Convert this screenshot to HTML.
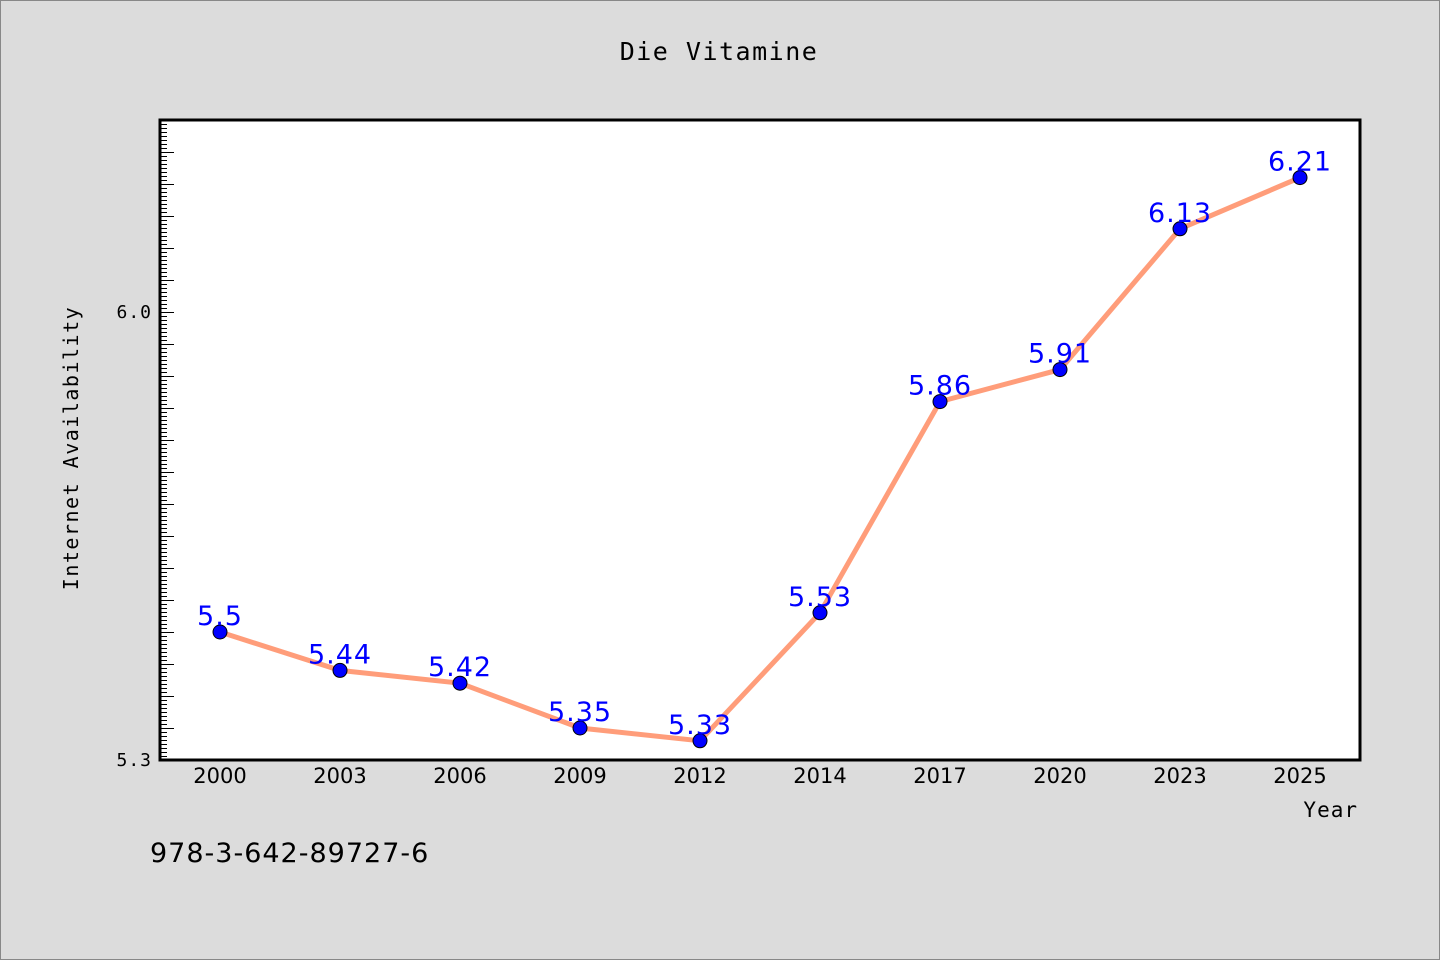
<!DOCTYPE html>
<html><head><meta charset="utf-8"><style>
html,body{margin:0;padding:0;background:#dcdcdc;}
svg{display:block;}
text{font-family:"DejaVu Sans Mono","Liberation Mono",monospace;}
</style></head><body>
<svg id="chart" width="1440" height="960" xmlns="http://www.w3.org/2000/svg">
<rect x="0.5" y="0.5" width="1439" height="959" fill="#dcdcdc" stroke="#888"/>
<text x="719" y="60" font-size="25" letter-spacing="1.5" text-anchor="middle">Die Vitamine</text>
<rect x="160" y="120" width="1200" height="640" fill="#fff"/>
<g id="yticks" shape-rendering="crispEdges"></g>
<g id="xlabels"></g>
<g id="series"></g>
<rect x="160" y="120" width="1200" height="640" fill="none" stroke="#000" stroke-width="3"/>
<text x="78" y="448" font-size="20" letter-spacing="1.5" text-anchor="middle" transform="rotate(-90 78 448)">Internet Availability</text>
<text x="1358" y="817" font-size="21" letter-spacing="1" text-anchor="end">Year</text>
<text x="150" y="862" font-size="27" letter-spacing="1" style="font-family:'DejaVu Sans','Liberation Sans',sans-serif">978-3-642-89727-6</text>
</svg>
<script>
const categories=["2000","2003","2006","2009","2012","2014","2017","2020","2023","2025"];
const values=[5.5,5.44,5.42,5.35,5.33,5.53,5.86,5.91,6.13,6.21];
const valueLabels=["5.5","5.44","5.42","5.35","5.33","5.53","5.86","5.91","6.13","6.21"];
const yTickLabels=["5.3","6.0"];
const yTickValues=[5.3,6.0];
const yMin=5.3,yMax=6.3;
const NS="http://www.w3.org/2000/svg";
function ys(v){return 760-(v-yMin)/(yMax-yMin)*640;}
function xs(i){return 220+i*120;}
function mk(tag,attrs,parent){const e=document.createElementNS(NS,tag);for(const k in attrs)e.setAttribute(k,attrs[k]);parent.appendChild(e);return e;}
const yg=document.getElementById('yticks');
for(let k=0;k<=160;k++){const v=yMin+k*0.00625;const y=Math.round(ys(v))+0.5;const len=(k%8===0)?14:7;
 const t=mk('line',{x1:160,x2:160+len,y1:y,y2:y,stroke:'#000','stroke-width':1},yg);
 
 }
yTickValues.forEach((v,i)=>{const t=mk('text',{x:152,y:ys(v)+6,'font-size':18,'letter-spacing':1,'text-anchor':'end'},yg);t.textContent=yTickLabels[i];
 
 });
const xg=document.getElementById('xlabels');
categories.forEach((c,i)=>{const t=mk('text',{x:xs(i),y:783,'font-size':21,'text-anchor':'middle',style:"font-family:'DejaVu Sans','Liberation Sans',sans-serif"},xg);t.textContent=c;
 
 });
const sg=document.getElementById('series');
const pl=mk('polyline',{points:values.map((v,i)=>xs(i)+','+ys(v)).join(' '),fill:'none',stroke:'#ff9d7a','stroke-width':5},sg);


values.forEach((v,i)=>{const c=mk('circle',{cx:xs(i),cy:ys(v),r:7,fill:'#0000ff',stroke:'#000','stroke-width':1},sg);
 
 
 const t=mk('text',{x:xs(i),y:ys(v)-7,'font-size':27,'letter-spacing':1,'text-anchor':'middle',fill:'#0000ff',style:"font-family:'DejaVu Sans','Liberation Sans',sans-serif"},sg);t.textContent=valueLabels[i];
 
 });
</script>
</body></html>
